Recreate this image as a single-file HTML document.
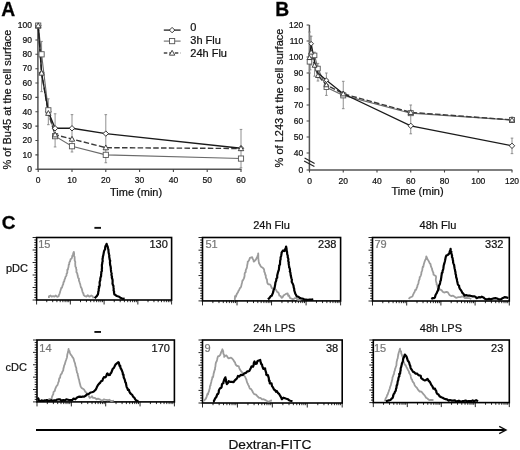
<!DOCTYPE html>
<html><head><meta charset="utf-8"><style>
html,body{margin:0;padding:0;background:#fff;}
body{width:520px;height:450px;overflow:hidden;font-family:"Liberation Sans",sans-serif;}
svg{display:block;filter:grayscale(1);}
text{stroke:#111;stroke-width:0.22px;}
text[fill="#777"]{stroke:#777;}
text[font-weight="bold"]{stroke-width:0.3px;}
</style></head><body>
<svg width="520" height="450" viewBox="0 0 520 450">
<rect width="520" height="450" fill="#fff"/>
<text x="1.2" y="15.8" font-family="'Liberation Sans', sans-serif" font-size="19.3" font-weight="bold">A</text>
<path d="M37.9,25.60 V169.2 H241.50" fill="none" stroke="#555" stroke-width="1.5"/>
<path d="M35.4,169.20H38.2M35.4,154.84H38.2M35.4,140.48H38.2M35.4,126.12H38.2M35.4,111.76H38.2M35.4,97.40H38.2M35.4,83.04H38.2M35.4,68.68H38.2M35.4,54.32H38.2M35.4,39.96H38.2M35.4,25.60H38.2M38.20,169.2V172M72.00,169.2V172M105.80,169.2V172M139.60,169.2V172M173.40,169.2V172M207.20,169.2V172M241.00,169.2V172" stroke="#444" stroke-width="1.1"/>
<text x="32" y="172.00" font-family="'Liberation Sans', sans-serif" font-size="8.5" text-anchor="end" fill="#111">0</text>
<text x="32" y="157.64" font-family="'Liberation Sans', sans-serif" font-size="8.5" text-anchor="end" fill="#111">10</text>
<text x="32" y="143.28" font-family="'Liberation Sans', sans-serif" font-size="8.5" text-anchor="end" fill="#111">20</text>
<text x="32" y="128.92" font-family="'Liberation Sans', sans-serif" font-size="8.5" text-anchor="end" fill="#111">30</text>
<text x="32" y="114.56" font-family="'Liberation Sans', sans-serif" font-size="8.5" text-anchor="end" fill="#111">40</text>
<text x="32" y="100.20" font-family="'Liberation Sans', sans-serif" font-size="8.5" text-anchor="end" fill="#111">50</text>
<text x="32" y="85.84" font-family="'Liberation Sans', sans-serif" font-size="8.5" text-anchor="end" fill="#111">60</text>
<text x="32" y="71.48" font-family="'Liberation Sans', sans-serif" font-size="8.5" text-anchor="end" fill="#111">70</text>
<text x="32" y="57.12" font-family="'Liberation Sans', sans-serif" font-size="8.5" text-anchor="end" fill="#111">80</text>
<text x="32" y="42.76" font-family="'Liberation Sans', sans-serif" font-size="8.5" text-anchor="end" fill="#111">90</text>
<text x="32" y="28.40" font-family="'Liberation Sans', sans-serif" font-size="8.5" text-anchor="end" fill="#111">100</text>
<text x="38.20" y="183.4" font-family="'Liberation Sans', sans-serif" font-size="8.5" text-anchor="middle" fill="#111">0</text>
<text x="72.00" y="183.4" font-family="'Liberation Sans', sans-serif" font-size="8.5" text-anchor="middle" fill="#111">10</text>
<text x="105.80" y="183.4" font-family="'Liberation Sans', sans-serif" font-size="8.5" text-anchor="middle" fill="#111">20</text>
<text x="139.60" y="183.4" font-family="'Liberation Sans', sans-serif" font-size="8.5" text-anchor="middle" fill="#111">30</text>
<text x="173.40" y="183.4" font-family="'Liberation Sans', sans-serif" font-size="8.5" text-anchor="middle" fill="#111">40</text>
<text x="207.20" y="183.4" font-family="'Liberation Sans', sans-serif" font-size="8.5" text-anchor="middle" fill="#111">50</text>
<text x="241.00" y="183.4" font-family="'Liberation Sans', sans-serif" font-size="8.5" text-anchor="middle" fill="#111">60</text>
<text x="110" y="195.6" font-family="'Liberation Sans', sans-serif" font-size="11" fill="#111">Time (min)</text>
<text transform="translate(11.2,169.6) rotate(-90)" font-family="'Liberation Sans', sans-serif" font-size="11" fill="#111">% of Bu45 at the cell surface</text>
<path d="M41.58,41.40V91.66M40.28,41.40h2.6M40.28,91.66h2.6M48.34,98.84V124.68M47.04,98.84h2.6M47.04,124.68h2.6M55.10,113.77V146.94M53.80,113.77h2.6M53.80,146.94h2.6M72.00,114.63V151.97M70.70,114.63h2.6M70.70,151.97h2.6M105.80,114.63V162.74M104.50,114.63h2.6M104.50,162.74h2.6M241.00,129.42V167.76M239.70,129.42h2.6M239.70,167.76h2.6" stroke="#858585" stroke-width="0.9" fill="none"/>
<polyline points="38.20,25.60 41.58,54.32 48.34,110.32 55.10,136.17 72.00,146.22 105.80,154.84 241.00,158.57" fill="none" stroke="#6a6a6a" stroke-width="1.1"/>
<polyline points="38.20,25.60 41.58,72.99 48.34,113.20 55.10,134.74 72.00,139.04 105.80,147.66 241.00,148.52" fill="none" stroke="#3a3a3a" stroke-width="1.4" stroke-dasharray="5.5 2.3"/>
<polyline points="38.20,25.60 41.58,72.99 48.34,111.76 55.10,128.27 72.00,128.27 105.80,133.59 241.00,148.23" fill="none" stroke="#1a1a1a" stroke-width="1.3"/>
<path d="M38.20,22.90L40.90,25.60L38.20,28.30L35.50,25.60Z" fill="#fff" stroke="#222" stroke-width="0.9"/>
<path d="M41.58,70.29L44.28,72.99L41.58,75.69L38.88,72.99Z" fill="#fff" stroke="#222" stroke-width="0.9"/>
<path d="M48.34,109.06L51.04,111.76L48.34,114.46L45.64,111.76Z" fill="#fff" stroke="#222" stroke-width="0.9"/>
<path d="M55.10,125.57L57.80,128.27L55.10,130.97L52.40,128.27Z" fill="#fff" stroke="#222" stroke-width="0.9"/>
<path d="M72.00,125.57L74.70,128.27L72.00,130.97L69.30,128.27Z" fill="#fff" stroke="#222" stroke-width="0.9"/>
<path d="M105.80,130.89L108.50,133.59L105.80,136.29L103.10,133.59Z" fill="#fff" stroke="#222" stroke-width="0.9"/>
<path d="M241.00,145.53L243.70,148.23L241.00,150.93L238.30,148.23Z" fill="#fff" stroke="#222" stroke-width="0.9"/>
<rect x="35.60" y="23.00" width="5.20" height="5.20" fill="#fff" stroke="#555" stroke-width="0.9"/>
<rect x="38.98" y="51.72" width="5.20" height="5.20" fill="#fff" stroke="#555" stroke-width="0.9"/>
<rect x="45.74" y="107.72" width="5.20" height="5.20" fill="#fff" stroke="#555" stroke-width="0.9"/>
<rect x="52.50" y="133.57" width="5.20" height="5.20" fill="#fff" stroke="#555" stroke-width="0.9"/>
<rect x="69.40" y="143.62" width="5.20" height="5.20" fill="#fff" stroke="#555" stroke-width="0.9"/>
<rect x="103.20" y="152.24" width="5.20" height="5.20" fill="#fff" stroke="#555" stroke-width="0.9"/>
<rect x="238.40" y="155.97" width="5.20" height="5.20" fill="#fff" stroke="#555" stroke-width="0.9"/>
<path d="M38.20,22.90L40.90,27.76L35.50,27.76Z" fill="#fff" stroke="#333" stroke-width="0.9"/>
<path d="M41.58,70.29L44.28,75.15L38.88,75.15Z" fill="#fff" stroke="#333" stroke-width="0.9"/>
<path d="M48.34,110.50L51.04,115.36L45.64,115.36Z" fill="#fff" stroke="#333" stroke-width="0.9"/>
<path d="M55.10,132.04L57.80,136.90L52.40,136.90Z" fill="#fff" stroke="#333" stroke-width="0.9"/>
<path d="M72.00,136.34L74.70,141.20L69.30,141.20Z" fill="#fff" stroke="#333" stroke-width="0.9"/>
<path d="M105.80,144.96L108.50,149.82L103.10,149.82Z" fill="#fff" stroke="#333" stroke-width="0.9"/>
<path d="M241.00,145.82L243.70,150.68L238.30,150.68Z" fill="#fff" stroke="#333" stroke-width="0.9"/>
<path d="M163.8,30.1H180.6" stroke="#222" stroke-width="1.3"/>
<path d="M172.10,27.40L174.80,30.10L172.10,32.80L169.40,30.10Z" fill="#fff" stroke="#222" stroke-width="0.9"/>
<path d="M163.8,41.1H180.6" stroke="#6a6a6a" stroke-width="1.1"/>
<rect x="169.50" y="38.50" width="5.20" height="5.20" fill="#fff" stroke="#555" stroke-width="0.9"/>
<path d="M163.8,53H180.6" stroke="#444" stroke-width="1.3" stroke-dasharray="3.5 2"/>
<path d="M172.10,50.30L174.80,55.16L169.40,55.16Z" fill="#fff" stroke="#333" stroke-width="0.9"/>
<text x="190.3" y="31.3" font-family="'Liberation Sans', sans-serif" font-size="11" fill="#111">0</text>
<text x="190.3" y="43.6" font-family="'Liberation Sans', sans-serif" font-size="11" fill="#111">3h Flu</text>
<text x="190.3" y="56.8" font-family="'Liberation Sans', sans-serif" font-size="11" fill="#111">24h Flu</text>
<text x="275.2" y="15.6" font-family="'Liberation Sans', sans-serif" font-size="19.3" font-weight="bold">B</text>
<path d="M309.4,25.00 V170 H512.30" fill="none" stroke="#555" stroke-width="1.5"/>
<path d="M306.6,170.00H309.4M306.6,153.00H309.4M306.6,137.00H309.4M306.6,121.00H309.4M306.6,105.00H309.4M306.6,89.00H309.4M306.6,73.00H309.4M306.6,57.00H309.4M306.6,41.00H309.4M306.6,25.00H309.4M309.50,170V172.6M343.25,170V172.6M377.00,170V172.6M410.75,170V172.6M444.50,170V172.6M478.25,170V172.6M512.00,170V172.6" stroke="#444" stroke-width="1.1"/>
<path d="M304.6,158.1L314.6,163.4M304.1,160.9L314.4,166.4" stroke="#222" stroke-width="1.1"/>
<text x="303.3" y="172.80" font-family="'Liberation Sans', sans-serif" font-size="8.5" text-anchor="end" fill="#111">0</text>
<text x="303.3" y="155.80" font-family="'Liberation Sans', sans-serif" font-size="8.5" text-anchor="end" fill="#111">40</text>
<text x="303.3" y="139.80" font-family="'Liberation Sans', sans-serif" font-size="8.5" text-anchor="end" fill="#111">50</text>
<text x="303.3" y="123.80" font-family="'Liberation Sans', sans-serif" font-size="8.5" text-anchor="end" fill="#111">60</text>
<text x="303.3" y="107.80" font-family="'Liberation Sans', sans-serif" font-size="8.5" text-anchor="end" fill="#111">70</text>
<text x="303.3" y="91.80" font-family="'Liberation Sans', sans-serif" font-size="8.5" text-anchor="end" fill="#111">80</text>
<text x="303.3" y="75.80" font-family="'Liberation Sans', sans-serif" font-size="8.5" text-anchor="end" fill="#111">90</text>
<text x="303.3" y="59.80" font-family="'Liberation Sans', sans-serif" font-size="8.5" text-anchor="end" fill="#111">100</text>
<text x="303.3" y="43.80" font-family="'Liberation Sans', sans-serif" font-size="8.5" text-anchor="end" fill="#111">110</text>
<text x="303.3" y="27.80" font-family="'Liberation Sans', sans-serif" font-size="8.5" text-anchor="end" fill="#111">120</text>
<text x="309.50" y="183.8" font-family="'Liberation Sans', sans-serif" font-size="8.5" text-anchor="middle" fill="#111">0</text>
<text x="343.25" y="183.8" font-family="'Liberation Sans', sans-serif" font-size="8.5" text-anchor="middle" fill="#111">20</text>
<text x="377.00" y="183.8" font-family="'Liberation Sans', sans-serif" font-size="8.5" text-anchor="middle" fill="#111">40</text>
<text x="410.75" y="183.8" font-family="'Liberation Sans', sans-serif" font-size="8.5" text-anchor="middle" fill="#111">60</text>
<text x="444.50" y="183.8" font-family="'Liberation Sans', sans-serif" font-size="8.5" text-anchor="middle" fill="#111">80</text>
<text x="478.25" y="183.8" font-family="'Liberation Sans', sans-serif" font-size="8.5" text-anchor="middle" fill="#111">100</text>
<text x="512.00" y="183.8" font-family="'Liberation Sans', sans-serif" font-size="8.5" text-anchor="middle" fill="#111">120</text>
<text x="391.5" y="195.3" font-family="'Liberation Sans', sans-serif" font-size="11" fill="#111">Time (min)</text>
<text transform="translate(282.9,167.4) rotate(-90)" font-family="'Liberation Sans', sans-serif" font-size="11" fill="#111">% of L243 at the cell surface</text>
<path d="M309.50,32.04V73.00M308.20,32.04h2.6M308.20,73.00h2.6M310.18,36.20V69.80M308.88,36.20h2.6M308.88,69.80h2.6M311.19,36.20V65.00M309.89,36.20h2.6M309.89,65.00h2.6M314.56,52.20V76.20M313.26,52.20h2.6M313.26,76.20h2.6M317.94,63.40V81.00M316.64,63.40h2.6M316.64,81.00h2.6M326.38,73.00V95.40M325.07,73.00h2.6M325.07,95.40h2.6M343.25,81.32V108.68M341.95,81.32h2.6M341.95,108.68h2.6M410.75,105.00V133.80M409.45,105.00h2.6M409.45,133.80h2.6M512.00,117.00V121.80M510.70,117.00h2.6M510.70,121.80h2.6M512.00,138.12V153.64M510.70,138.12h2.6M510.70,153.64h2.6" stroke="#858585" stroke-width="0.9" fill="none"/>
<polyline points="309.50,61.80 311.19,55.40 314.56,55.40 317.94,68.52 326.38,87.24 343.25,95.40 410.75,113.16 512.00,120.04" fill="none" stroke="#6a6a6a" stroke-width="1.1"/>
<polyline points="309.50,57.64 311.19,52.20 314.56,65.32 317.94,75.56 326.38,84.84 343.25,93.80 410.75,112.36 512.00,119.88" fill="none" stroke="#3a3a3a" stroke-width="1.4" stroke-dasharray="5.5 2.3"/>
<polyline points="309.50,57.64 311.19,43.72 314.56,61.80 317.94,73.00 326.38,80.20 343.25,93.80 410.75,125.80 512.00,145.80" fill="none" stroke="#1a1a1a" stroke-width="1.3"/>
<path d="M311.19,41.42L313.49,43.72L311.19,46.02L308.89,43.72Z" fill="#fff" stroke="#222" stroke-width="0.9"/>
<path d="M326.38,77.90L328.68,80.20L326.38,82.50L324.07,80.20Z" fill="#fff" stroke="#222" stroke-width="0.9"/>
<path d="M343.25,91.10L345.95,93.80L343.25,96.50L340.55,93.80Z" fill="#fff" stroke="#222" stroke-width="0.9"/>
<path d="M410.75,123.10L413.45,125.80L410.75,128.50L408.05,125.80Z" fill="#fff" stroke="#222" stroke-width="0.9"/>
<path d="M512.00,143.10L514.70,145.80L512.00,148.50L509.30,145.80Z" fill="#fff" stroke="#222" stroke-width="0.9"/>
<rect x="307.20" y="59.50" width="4.60" height="4.60" fill="#fff" stroke="#555" stroke-width="0.9"/>
<rect x="308.89" y="53.10" width="4.60" height="4.60" fill="#fff" stroke="#555" stroke-width="0.9"/>
<rect x="312.26" y="53.10" width="4.60" height="4.60" fill="#fff" stroke="#555" stroke-width="0.9"/>
<rect x="315.64" y="66.22" width="4.60" height="4.60" fill="#fff" stroke="#555" stroke-width="0.9"/>
<rect x="324.07" y="84.94" width="4.60" height="4.60" fill="#fff" stroke="#555" stroke-width="0.9"/>
<rect x="340.75" y="92.90" width="5.00" height="5.00" fill="#fff" stroke="#555" stroke-width="0.9"/>
<rect x="408.25" y="110.66" width="5.00" height="5.00" fill="#fff" stroke="#555" stroke-width="0.9"/>
<rect x="509.50" y="117.54" width="5.00" height="5.00" fill="#fff" stroke="#555" stroke-width="0.9"/>
<path d="M309.50,55.24L311.90,59.56L307.10,59.56Z" fill="#fff" stroke="#333" stroke-width="0.9"/>
<path d="M311.19,49.80L313.59,54.12L308.79,54.12Z" fill="#fff" stroke="#333" stroke-width="0.9"/>
<path d="M314.56,62.92L316.96,67.24L312.16,67.24Z" fill="#fff" stroke="#333" stroke-width="0.9"/>
<path d="M317.94,73.16L320.34,77.48L315.54,77.48Z" fill="#fff" stroke="#333" stroke-width="0.9"/>
<path d="M326.38,82.44L328.77,86.76L323.98,86.76Z" fill="#fff" stroke="#333" stroke-width="0.9"/>
<path d="M343.25,91.20L345.85,95.88L340.65,95.88Z" fill="#fff" stroke="#333" stroke-width="0.9"/>
<path d="M410.75,109.76L413.35,114.44L408.15,114.44Z" fill="#fff" stroke="#333" stroke-width="0.9"/>
<path d="M512.00,117.28L514.60,121.96L509.40,121.96Z" fill="#fff" stroke="#333" stroke-width="0.9"/>
<text x="1.8" y="229.4" font-family="'Liberation Sans', sans-serif" font-size="19" font-weight="bold">C</text>
<path d="M32.60,300.00H36.6M34.30,297.50H36.6M34.30,295.00H36.6M34.30,292.50H36.6M34.30,290.00H36.6M32.60,287.50H36.6M34.30,285.00H36.6M34.30,282.50H36.6M34.30,280.00H36.6M34.30,277.50H36.6M32.60,275.00H36.6M34.30,272.50H36.6M34.30,270.00H36.6M34.30,267.50H36.6M34.30,265.00H36.6M32.60,262.50H36.6M34.30,260.00H36.6M34.30,257.50H36.6M34.30,255.00H36.6M34.30,252.50H36.6M32.60,250.00H36.6M34.30,247.50H36.6M34.30,245.00H36.6M34.30,242.50H36.6M34.30,240.00H36.6M32.60,237.50H36.6M36.60,300.0V304.5M46.76,300.0V302.2M52.70,300.0V302.2M56.92,300.0V302.2M60.19,300.0V302.2M62.86,300.0V302.2M65.12,300.0V302.2M67.08,300.0V302.2M68.81,300.0V302.2M70.35,300.0V304.5M80.51,300.0V302.2M86.45,300.0V302.2M90.67,300.0V302.2M93.94,300.0V302.2M96.61,300.0V302.2M98.87,300.0V302.2M100.83,300.0V302.2M102.56,300.0V302.2M104.10,300.0V304.5M114.26,300.0V302.2M120.20,300.0V302.2M124.42,300.0V302.2M127.69,300.0V302.2M130.36,300.0V302.2M132.62,300.0V302.2M134.58,300.0V302.2M136.31,300.0V302.2M137.85,300.0V304.5M148.01,300.0V302.2M153.95,300.0V302.2M158.17,300.0V302.2M161.44,300.0V302.2M164.11,300.0V302.2M166.37,300.0V302.2M168.33,300.0V302.2M170.06,300.0V302.2M171.60,300.0V304.5" stroke="#111" stroke-width="0.9"/>
<rect x="36.6" y="237.5" width="135.00" height="62.50" fill="none" stroke="#000" stroke-width="1.6"/>
<text x="38.20" y="248.00" font-family="'Liberation Sans', sans-serif" font-size="11" fill="#777">15</text>
<text x="167.80" y="248.00" font-family="'Liberation Sans', sans-serif" font-size="11" text-anchor="end" fill="#111">130</text>
<rect x="94.4" y="226.9" width="6.6" height="1.9" fill="#111"/>
<path d="M198.50,300.90H202.5M200.20,298.36H202.5M200.20,295.83H202.5M200.20,293.29H202.5M200.20,290.76H202.5M198.50,288.22H202.5M200.20,285.68H202.5M200.20,283.15H202.5M200.20,280.61H202.5M200.20,278.08H202.5M198.50,275.54H202.5M200.20,273.00H202.5M200.20,270.47H202.5M200.20,267.93H202.5M200.20,265.40H202.5M198.50,262.86H202.5M200.20,260.32H202.5M200.20,257.79H202.5M200.20,255.25H202.5M200.20,252.72H202.5M198.50,250.18H202.5M200.20,247.64H202.5M200.20,245.11H202.5M200.20,242.57H202.5M200.20,240.04H202.5M198.50,237.50H202.5M202.50,300.9V305.4M212.89,300.9V303.09999999999997M218.97,300.9V303.09999999999997M223.29,300.9V303.09999999999997M226.63,300.9V303.09999999999997M229.37,300.9V303.09999999999997M231.68,300.9V303.09999999999997M233.68,300.9V303.09999999999997M235.45,300.9V303.09999999999997M237.03,300.9V305.4M247.42,300.9V303.09999999999997M253.50,300.9V303.09999999999997M257.81,300.9V303.09999999999997M261.16,300.9V303.09999999999997M263.89,300.9V303.09999999999997M266.20,300.9V303.09999999999997M268.20,300.9V303.09999999999997M269.97,300.9V303.09999999999997M271.55,300.9V305.4M281.94,300.9V303.09999999999997M288.02,300.9V303.09999999999997M292.34,300.9V303.09999999999997M295.68,300.9V303.09999999999997M298.42,300.9V303.09999999999997M300.73,300.9V303.09999999999997M302.73,300.9V303.09999999999997M304.50,300.9V303.09999999999997M306.08,300.9V305.4M316.47,300.9V303.09999999999997M322.55,300.9V303.09999999999997M326.86,300.9V303.09999999999997M330.21,300.9V303.09999999999997M332.94,300.9V303.09999999999997M335.25,300.9V303.09999999999997M337.25,300.9V303.09999999999997M339.02,300.9V303.09999999999997M340.60,300.9V305.4" stroke="#111" stroke-width="0.9"/>
<rect x="202.5" y="237.5" width="138.10" height="63.40" fill="none" stroke="#000" stroke-width="1.6"/>
<text x="205.50" y="248.00" font-family="'Liberation Sans', sans-serif" font-size="11" fill="#777">51</text>
<text x="336.40" y="248.00" font-family="'Liberation Sans', sans-serif" font-size="11" text-anchor="end" fill="#111">238</text>
<path d="M368.50,301.00H372.5M370.20,298.46H372.5M370.20,295.92H372.5M370.20,293.38H372.5M370.20,290.84H372.5M368.50,288.30H372.5M370.20,285.76H372.5M370.20,283.22H372.5M370.20,280.68H372.5M370.20,278.14H372.5M368.50,275.60H372.5M370.20,273.06H372.5M370.20,270.52H372.5M370.20,267.98H372.5M370.20,265.44H372.5M368.50,262.90H372.5M370.20,260.36H372.5M370.20,257.82H372.5M370.20,255.28H372.5M370.20,252.74H372.5M368.50,250.20H372.5M370.20,247.66H372.5M370.20,245.12H372.5M370.20,242.58H372.5M370.20,240.04H372.5M368.50,237.50H372.5M372.50,301.0V305.5M382.80,301.0V303.2M388.82,301.0V303.2M393.09,301.0V303.2M396.40,301.0V303.2M399.11,301.0V303.2M401.40,301.0V303.2M403.39,301.0V303.2M405.14,301.0V303.2M406.70,301.0V305.5M417.00,301.0V303.2M423.02,301.0V303.2M427.29,301.0V303.2M430.60,301.0V303.2M433.31,301.0V303.2M435.60,301.0V303.2M437.59,301.0V303.2M439.34,301.0V303.2M440.90,301.0V305.5M451.20,301.0V303.2M457.22,301.0V303.2M461.49,301.0V303.2M464.80,301.0V303.2M467.51,301.0V303.2M469.80,301.0V303.2M471.79,301.0V303.2M473.54,301.0V303.2M475.10,301.0V305.5M485.40,301.0V303.2M491.42,301.0V303.2M495.69,301.0V303.2M499.00,301.0V303.2M501.71,301.0V303.2M504.00,301.0V303.2M505.99,301.0V303.2M507.74,301.0V303.2M509.30,301.0V305.5" stroke="#111" stroke-width="0.9"/>
<rect x="372.5" y="237.5" width="136.80" height="63.50" fill="none" stroke="#000" stroke-width="1.6"/>
<text x="374.40" y="248.00" font-family="'Liberation Sans', sans-serif" font-size="11" fill="#777">79</text>
<text x="503.40" y="248.00" font-family="'Liberation Sans', sans-serif" font-size="11" text-anchor="end" fill="#111">332</text>
<path d="M33.00,401.90H37.0M34.70,399.42H37.0M34.70,396.95H37.0M34.70,394.47H37.0M34.70,392.00H37.0M33.00,389.52H37.0M34.70,387.04H37.0M34.70,384.57H37.0M34.70,382.09H37.0M34.70,379.62H37.0M33.00,377.14H37.0M34.70,374.66H37.0M34.70,372.19H37.0M34.70,369.71H37.0M34.70,367.24H37.0M33.00,364.76H37.0M34.70,362.28H37.0M34.70,359.81H37.0M34.70,357.33H37.0M34.70,354.86H37.0M33.00,352.38H37.0M34.70,349.90H37.0M34.70,347.43H37.0M34.70,344.95H37.0M34.70,342.48H37.0M33.00,340.00H37.0M37.00,401.9V406.4M47.34,401.9V404.09999999999997M53.39,401.9V404.09999999999997M57.68,401.9V404.09999999999997M61.01,401.9V404.09999999999997M63.73,401.9V404.09999999999997M66.03,401.9V404.09999999999997M68.02,401.9V404.09999999999997M69.78,401.9V404.09999999999997M71.35,401.9V406.4M81.69,401.9V404.09999999999997M87.74,401.9V404.09999999999997M92.03,401.9V404.09999999999997M95.36,401.9V404.09999999999997M98.08,401.9V404.09999999999997M100.38,401.9V404.09999999999997M102.37,401.9V404.09999999999997M104.13,401.9V404.09999999999997M105.70,401.9V406.4M116.04,401.9V404.09999999999997M122.09,401.9V404.09999999999997M126.38,401.9V404.09999999999997M129.71,401.9V404.09999999999997M132.43,401.9V404.09999999999997M134.73,401.9V404.09999999999997M136.72,401.9V404.09999999999997M138.48,401.9V404.09999999999997M140.05,401.9V406.4M150.39,401.9V404.09999999999997M156.44,401.9V404.09999999999997M160.73,401.9V404.09999999999997M164.06,401.9V404.09999999999997M166.78,401.9V404.09999999999997M169.08,401.9V404.09999999999997M171.07,401.9V404.09999999999997M172.83,401.9V404.09999999999997M174.40,401.9V406.4" stroke="#111" stroke-width="0.9"/>
<rect x="37.0" y="340.0" width="137.40" height="61.90" fill="none" stroke="#000" stroke-width="1.6"/>
<text x="39.30" y="351.80" font-family="'Liberation Sans', sans-serif" font-size="11" fill="#777">14</text>
<text x="169.90" y="351.80" font-family="'Liberation Sans', sans-serif" font-size="11" text-anchor="end" fill="#111">170</text>
<rect x="94.4" y="331.0" width="6.6" height="1.9" fill="#111"/>
<path d="M198.50,403.00H202.5M200.20,400.48H202.5M200.20,397.96H202.5M200.20,395.44H202.5M200.20,392.92H202.5M198.50,390.40H202.5M200.20,387.88H202.5M200.20,385.36H202.5M200.20,382.84H202.5M200.20,380.32H202.5M198.50,377.80H202.5M200.20,375.28H202.5M200.20,372.76H202.5M200.20,370.24H202.5M200.20,367.72H202.5M198.50,365.20H202.5M200.20,362.68H202.5M200.20,360.16H202.5M200.20,357.64H202.5M200.20,355.12H202.5M198.50,352.60H202.5M200.20,350.08H202.5M200.20,347.56H202.5M200.20,345.04H202.5M200.20,342.52H202.5M198.50,340.00H202.5M202.50,403.0V407.5M213.01,403.0V405.2M219.16,403.0V405.2M223.53,403.0V405.2M226.91,403.0V405.2M229.68,403.0V405.2M232.02,403.0V405.2M234.04,403.0V405.2M235.83,403.0V405.2M237.43,403.0V407.5M247.94,403.0V405.2M254.09,403.0V405.2M258.45,403.0V405.2M261.84,403.0V405.2M264.60,403.0V405.2M266.94,403.0V405.2M268.97,403.0V405.2M270.75,403.0V405.2M272.35,403.0V407.5M282.86,403.0V405.2M289.01,403.0V405.2M293.38,403.0V405.2M296.76,403.0V405.2M299.53,403.0V405.2M301.87,403.0V405.2M303.89,403.0V405.2M305.68,403.0V405.2M307.27,403.0V407.5M317.79,403.0V405.2M323.94,403.0V405.2M328.30,403.0V405.2M331.69,403.0V405.2M334.45,403.0V405.2M336.79,403.0V405.2M338.82,403.0V405.2M340.60,403.0V405.2M342.20,403.0V407.5" stroke="#111" stroke-width="0.9"/>
<rect x="202.5" y="340.0" width="139.70" height="63.00" fill="none" stroke="#000" stroke-width="1.6"/>
<text x="204.40" y="351.80" font-family="'Liberation Sans', sans-serif" font-size="11" fill="#777">9</text>
<text x="338.20" y="351.80" font-family="'Liberation Sans', sans-serif" font-size="11" text-anchor="end" fill="#111">38</text>
<path d="M369.30,402.60H373.3M371.00,400.10H373.3M371.00,397.59H373.3M371.00,395.09H373.3M371.00,392.58H373.3M369.30,390.08H373.3M371.00,387.58H373.3M371.00,385.07H373.3M371.00,382.57H373.3M371.00,380.06H373.3M369.30,377.56H373.3M371.00,375.06H373.3M371.00,372.55H373.3M371.00,370.05H373.3M371.00,367.54H373.3M369.30,365.04H373.3M371.00,362.54H373.3M371.00,360.03H373.3M371.00,357.53H373.3M371.00,355.02H373.3M369.30,352.52H373.3M371.00,350.02H373.3M371.00,347.51H373.3M371.00,345.01H373.3M371.00,342.50H373.3M369.30,340.00H373.3M373.30,402.6V407.1M383.54,402.6V404.8M389.52,402.6V404.8M393.77,402.6V404.8M397.06,402.6V404.8M399.76,402.6V404.8M402.03,402.6V404.8M404.01,402.6V404.8M405.74,402.6V404.8M407.30,402.6V407.1M417.54,402.6V404.8M423.52,402.6V404.8M427.77,402.6V404.8M431.06,402.6V404.8M433.76,402.6V404.8M436.03,402.6V404.8M438.01,402.6V404.8M439.74,402.6V404.8M441.30,402.6V407.1M451.54,402.6V404.8M457.52,402.6V404.8M461.77,402.6V404.8M465.06,402.6V404.8M467.76,402.6V404.8M470.03,402.6V404.8M472.01,402.6V404.8M473.74,402.6V404.8M475.30,402.6V407.1M485.54,402.6V404.8M491.52,402.6V404.8M495.77,402.6V404.8M499.06,402.6V404.8M501.76,402.6V404.8M504.03,402.6V404.8M506.01,402.6V404.8M507.74,402.6V404.8M509.30,402.6V407.1" stroke="#111" stroke-width="0.9"/>
<rect x="373.3" y="340.0" width="136.00" height="62.60" fill="none" stroke="#000" stroke-width="1.6"/>
<text x="373.90" y="351.80" font-family="'Liberation Sans', sans-serif" font-size="11" fill="#777">15</text>
<text x="503.30" y="351.80" font-family="'Liberation Sans', sans-serif" font-size="11" text-anchor="end" fill="#111">23</text>
<text x="253.2" y="228.6" font-family="'Liberation Sans', sans-serif" font-size="11" fill="#111">24h Flu</text>
<text x="419.6" y="229.2" font-family="'Liberation Sans', sans-serif" font-size="11" fill="#111">48h Flu</text>
<text x="253.2" y="331.8" font-family="'Liberation Sans', sans-serif" font-size="11" fill="#111">24h LPS</text>
<text x="419.8" y="331.8" font-family="'Liberation Sans', sans-serif" font-size="11" fill="#111">48h LPS</text>
<text x="6" y="272.1" font-family="'Liberation Sans', sans-serif" font-size="11" fill="#111">pDC</text>
<text x="5.6" y="371.2" font-family="'Liberation Sans', sans-serif" font-size="11" fill="#111">cDC</text>
<polyline points="48.9,298.0 48.9,296.2 50.5,295.5 51.6,296.7 53.1,296.2 54.7,296.5 55.6,295.5 57.3,296.8 58.7,296.2 58.8,295.4 59.6,293.6 60.1,292.0 60.2,291.2 60.5,290.6 61.4,287.6 61.9,287.9 62.6,285.2 63.2,284.4 63.5,282.2 64.2,281.5 64.5,279.7 65.2,278.3 65.4,277.0 66.2,276.0 66.5,275.3 66.6,273.6 67.3,272.8 67.3,269.9 67.9,269.6 68.0,268.7 68.5,267.1 68.7,264.8 69.2,264.5 69.3,262.5 70.1,261.2 70.6,259.1 71.5,258.7 71.9,257.9 72.4,255.4 73.0,255.0 73.3,253.0 73.8,251.9 74.1,253.3 74.1,254.8 74.0,256.1 74.6,256.8 74.7,259.9 74.6,260.2 75.3,261.9 75.2,263.8 75.3,264.7 75.4,266.7 76.1,267.4 76.1,268.8 76.5,269.6 76.4,272.1 77.2,273.2 77.5,274.7 77.6,275.3 78.0,277.2 78.3,278.1 78.9,278.5 78.9,280.7 79.5,281.9 79.8,283.0 80.3,284.6 80.6,285.9 81.0,287.4 81.3,287.7 81.9,289.2 82.5,291.7 82.9,292.9 83.4,293.3 83.6,295.0 85.1,296.2 86.4,296.5 87.8,295.3 89.5,296.7 91.3,295.5 92.7,296.2 93.5,298.3" fill="none" stroke="#9c9c9c" stroke-width="1.8" stroke-linejoin="round"/>
<polyline points="234.0,299.5 234.9,299.2 235.0,296.2 236.0,296.6 236.4,295.0 237.1,293.5 237.9,292.4 238.4,291.1 239.3,289.7 239.8,288.2 240.7,287.5 241.1,286.6 241.6,284.4 242.0,282.8 242.5,280.5 243.2,279.8 243.9,278.4 244.4,276.9 244.6,275.9 244.6,274.0 244.9,272.9 245.8,271.9 245.6,270.9 246.1,269.3 246.6,268.6 247.0,266.7 247.2,265.3 247.7,262.9 247.7,261.7 248.2,261.4 249.3,259.7 249.9,257.9 252.2,257.2 252.7,258.6 253.5,260.2 253.7,261.7 255.0,260.6 256.0,259.4 256.8,257.6 257.1,257.2 257.9,255.0 258.2,253.4 258.3,255.2 258.3,255.6 258.3,258.0 258.5,259.8 258.7,261.2 259.0,262.7 259.0,263.2 259.8,264.5 260.6,266.0 261.3,267.0 262.2,267.4 263.5,268.5 264.2,269.9 264.2,271.5 265.0,273.2 265.2,274.8 265.8,275.3 265.8,277.3 266.3,278.6 266.9,279.3 267.0,280.5 267.3,282.8 268.2,284.3 269.5,284.3 270.5,285.0 271.2,286.7 271.8,288.1 274.1,288.9 275.0,289.0 276.2,290.2 277.1,291.9 278.1,292.3 278.8,293.5 279.4,295.7 280.4,295.8 281.6,297.9 282.4,297.5 283.7,295.3 284.6,294.9 285.9,293.9 287.7,293.4 288.2,295.9 289.1,295.5 289.9,297.9 292.2,299.0 293.7,299.2 294.8,298.2 296.1,298.1 297.6,299.5 299.0,299.8 300.3,299.7 301.3,298.9 302.8,299.0" fill="none" stroke="#9c9c9c" stroke-width="1.8" stroke-linejoin="round"/>
<polyline points="408.6,298.8 409.9,297.6 411.2,297.0 412.4,296.5 412.9,295.2 414.1,292.6 414.6,292.0 415.2,290.0 416.1,289.8 416.9,287.4 417.3,286.8 417.5,285.2 418.3,283.9 418.6,282.4 418.6,281.5 419.2,279.9 419.6,279.1 419.7,277.0 420.3,276.8 420.9,275.2 421.3,274.0 421.4,272.3 422.0,270.8 422.4,269.7 422.3,269.2 422.8,266.6 423.3,266.8 423.7,264.7 424.0,263.5 424.5,261.9 425.1,260.3 425.7,259.3 426.1,258.1 426.3,256.4 427.2,258.3 427.4,259.2 428.2,260.2 429.2,262.1 429.8,263.5 430.5,264.0 430.8,265.9 431.5,267.6 432.0,268.5 432.1,269.6 433.0,272.2 433.3,272.3 433.5,274.6 434.4,275.2 435.8,276.1 436.1,277.1 435.8,279.5 435.9,280.4 436.2,282.0 436.7,283.6 436.5,284.3 437.4,285.6 437.4,286.6 437.9,288.5 438.8,289.6 440.2,289.5 441.8,290.4 442.7,291.7 444.1,292.6 446.3,291.9 447.6,292.1 448.6,293.6 449.4,294.9 451.2,296.0 453.1,295.7 454.6,296.7 456.1,297.9 458.4,297.2 460.4,297.1 462.2,296.4 463.8,297.0 465.2,298.2 466.7,297.9 468.4,298.1 469.6,298.2 471.3,299.0" fill="none" stroke="#9c9c9c" stroke-width="1.8" stroke-linejoin="round"/>
<polyline points="45.1,400.8 46.3,399.9 47.8,399.9 49.4,398.9 50.9,399.3 51.7,398.7 51.9,397.1 52.6,395.4 53.3,394.0 53.5,392.2 54.5,391.0 54.9,390.9 55.0,389.7 55.7,387.9 56.5,386.1 57.4,385.3 58.0,383.4 58.1,382.8 58.9,381.1 59.0,379.6 59.3,378.3 60.1,377.8 60.3,375.8 60.9,374.4 61.8,373.5 62.5,371.3 63.2,370.6 63.4,368.6 63.8,367.4 64.2,365.3 64.8,364.5 64.9,363.7 65.7,361.0 66.1,360.0 66.4,359.0 66.9,357.7 67.0,357.1 67.3,354.6 67.6,353.6 68.2,351.6 68.4,350.1 68.6,349.0 68.8,351.1 69.4,350.9 70.0,353.1 70.8,354.8 71.4,355.2 72.3,356.9 72.9,357.6 73.6,358.7 74.3,361.6 74.6,362.2 75.2,363.9 75.1,363.9 75.7,366.9 76.1,367.2 76.4,368.9 76.3,369.6 76.8,371.3 77.0,372.6 77.8,373.9 77.7,375.1 78.1,376.0 78.6,378.7 79.1,379.6 79.2,380.6 79.7,383.2 79.7,383.2 80.1,384.2 80.6,386.4 81.5,387.9 82.9,388.7 84.0,389.4 85.2,391.7 86.6,392.7 87.4,394.7 88.6,395.6 89.7,397.8 90.8,397.5 92.0,396.2 93.1,397.9 94.2,397.8 95.3,398.1 96.5,399.3 98.0,398.7 99.7,399.3 101.0,400.0 102.4,400.7 103.7,399.3 105.0,399.7 106.8,399.8 108.0,400.3 109.2,399.7 111.0,401.0 112.4,401.0 114.0,400.5" fill="none" stroke="#9c9c9c" stroke-width="1.8" stroke-linejoin="round"/>
<polyline points="203.8,400.8 204.7,399.9 205.6,399.0 206.3,397.8 206.8,396.2 207.4,394.0 208.0,394.3 208.3,392.9 209.1,390.9 209.3,389.6 209.8,388.4 209.9,386.2 210.6,385.4 210.5,384.9 210.8,383.7 211.3,381.9 211.5,380.7 212.3,378.2 212.3,377.2 213.1,377.2 213.5,374.6 213.6,373.6 214.1,372.1 214.6,370.0 215.0,369.4 215.1,367.5 215.4,366.7 215.6,364.2 216.0,362.3 216.6,361.4 217.1,359.7 217.5,357.9 217.7,357.2 218.2,356.2 219.3,356.0 220.4,354.6 220.9,352.9 221.1,352.3 221.6,351.5 222.4,349.3 222.9,351.0 223.2,351.0 223.3,352.9 223.3,353.5 224.2,355.1 224.2,356.9 225.5,355.6 226.5,355.4 227.9,357.7 228.7,358.4 231.0,357.7 232.1,358.5 233.3,359.9 234.2,361.5 235.0,362.3 235.6,364.5 236.9,365.8 237.8,366.0 238.8,366.4 239.2,367.8 240.1,369.8 241.1,371.3 241.9,372.0 242.4,373.6 243.3,374.9 244.2,375.7 245.4,377.3 245.6,377.8 246.6,380.1 246.5,380.4 247.3,383.1 247.7,383.4 248.1,384.6 249.0,386.2 249.3,387.3 249.9,388.7 251.2,389.2 252.0,390.4 253.0,392.5 254.3,394.2 256.0,394.7 257.3,396.2 258.2,397.0 259.0,397.8 260.5,397.8 262.0,399.3 263.7,399.2 265.0,399.9 266.6,400.8 268.2,401.6 269.3,401.5 270.8,400.6 272.0,400.5" fill="none" stroke="#9c9c9c" stroke-width="1.8" stroke-linejoin="round"/>
<polyline points="384.4,400.8 385.3,400.0 385.7,398.2 386.6,397.0 387.2,395.0 387.7,394.5 388.1,393.1 388.6,391.8 388.9,390.9 389.2,390.0 389.8,388.5 390.1,386.7 390.3,386.4 390.9,385.1 391.2,383.4 391.5,382.6 392.1,380.0 392.3,379.7 392.5,377.2 392.9,376.7 393.4,375.1 393.9,374.3 394.3,371.6 394.9,370.3 395.0,369.0 395.4,368.3 395.9,366.6 396.4,365.5 396.5,363.7 396.7,361.4 397.0,360.9 397.2,359.3 397.7,358.3 398.0,356.2 398.4,354.3 398.5,353.4 398.8,352.4 399.6,350.7 399.4,350.2 400.0,348.6 400.2,350.5 401.1,351.3 401.2,353.3 401.8,354.6 402.1,355.9 402.8,357.1 402.9,358.5 403.3,360.7 404.0,362.6 404.7,364.5 405.6,365.2 406.6,367.5 407.3,368.5 407.8,369.8 408.8,371.2 409.3,373.3 410.1,374.3 410.7,375.6 410.8,376.9 411.3,378.8 412.1,379.7 412.4,381.1 412.9,381.9 414.0,383.1 414.5,384.9 415.4,386.4 416.7,387.6 417.3,388.5 418.4,390.2 419.7,391.6 420.9,391.4 422.2,392.5 423.0,393.7 424.1,394.8 425.2,396.2 426.1,397.7 427.5,398.5 428.2,399.3 429.5,400.2 430.7,400.0 432.2,399.9 433.5,400.3" fill="none" stroke="#9c9c9c" stroke-width="1.8" stroke-linejoin="round"/>
<polyline points="94.7,298.3 95.8,297.0 96.8,296.1 97.9,294.4 98.2,293.1 98.3,291.5 98.7,290.7 98.7,288.8 99.2,287.5 98.9,286.8 99.7,285.8 99.7,284.2 99.6,282.4 99.8,281.5 100.3,280.2 100.3,278.5 100.7,277.0 101.1,276.0 101.1,274.7 101.3,273.3 101.3,271.8 101.9,271.0 101.8,269.1 102.0,268.0 101.9,266.1 101.9,264.7 102.2,263.8 102.3,262.4 102.7,261.2 102.5,258.8 102.8,258.3 102.9,256.5 103.2,255.7 103.6,253.6 103.7,253.0 104.1,251.0 104.5,250.2 105.1,249.4 105.2,247.3 105.5,246.0 106.0,245.5 106.6,243.9 107.1,245.5 107.7,246.7 108.1,248.6 108.4,249.6 108.5,251.0 108.6,252.5 109.1,254.6 109.3,255.3 109.2,256.6 109.6,258.7 109.7,259.7 110.2,260.7 109.9,262.2 110.1,264.2 110.2,265.1 110.6,266.3 110.8,267.8 110.9,269.4 111.1,271.4 111.3,272.3 111.7,273.8 111.4,274.8 112.0,276.9 111.8,277.6 112.5,279.5 112.6,280.4 112.6,282.5 112.5,283.4 112.9,284.9 113.4,285.8 113.5,287.4 113.7,288.7 113.6,290.4 114.1,291.4 114.0,292.6 114.4,294.4 115.8,295.3 116.8,296.0 119.2,296.7 120.2,297.6 121.5,298.3 122.9,298.8 124.7,298.5" fill="none" stroke="#000" stroke-width="2.2" stroke-linejoin="round"/>
<polyline points="268.0,299.4 269.0,298.4 269.7,297.7 270.8,296.1 271.8,295.7 272.4,294.1 272.8,293.2 273.3,291.7 273.6,289.9 274.1,288.9 274.7,287.3 274.9,285.9 275.2,284.6 275.3,283.5 275.4,282.7 276.2,280.7 276.3,279.8 276.4,278.5 277.2,277.7 277.2,275.5 277.5,274.2 277.7,273.4 278.0,272.2 278.6,270.7 279.0,269.1 279.0,268.0 279.2,266.9 279.2,265.4 280.0,264.5 280.0,263.5 280.1,261.7 280.2,260.3 280.6,259.3 280.6,257.4 281.0,256.4 281.2,255.5 281.6,253.4 281.6,252.6 282.4,251.4 283.1,250.4 284.6,251.1 285.1,249.3 285.8,248.0 286.1,246.6 286.3,247.5 286.6,248.9 286.6,250.1 287.0,251.7 287.1,252.7 287.2,254.2 287.8,255.8 287.7,257.1 288.2,258.4 288.4,259.4 288.2,260.9 288.8,262.5 288.6,263.1 288.9,265.2 289.2,266.2 289.1,267.2 289.7,268.3 290.1,270.6 289.8,271.4 290.4,272.5 290.6,274.3 290.7,275.3 291.0,276.5 291.4,278.3 291.9,279.6 291.7,281.7 292.2,282.8 292.9,284.1 293.5,285.6 293.7,287.4 294.2,288.9 294.3,290.6 294.7,291.7 295.2,293.4 296.1,295.1 296.7,296.4 298.4,296.8 299.7,297.9 301.1,298.3 303.1,298.8 304.3,299.4 305.9,299.5 307.6,299.8 308.8,299.7 310.5,299.5 311.8,299.7 313.3,299.4" fill="none" stroke="#000" stroke-width="2.2" stroke-linejoin="round"/>
<polyline points="431.3,299.0 432.6,298.1 434.0,298.1 435.0,297.3 435.4,295.5 436.0,294.1 436.6,293.4 437.2,291.8 438.0,290.4 438.3,288.9 438.7,288.2 438.9,285.9 439.5,284.8 439.8,284.3 440.1,283.0 440.3,281.3 440.8,280.5 441.1,278.4 441.3,277.3 441.4,276.1 441.7,274.5 441.8,273.1 442.5,272.4 442.6,270.7 443.0,270.0 443.4,268.2 443.6,266.4 443.7,265.5 444.2,263.9 444.5,262.7 444.8,261.7 445.1,260.3 445.5,258.2 445.8,256.8 446.3,255.6 447.8,254.9 449.4,253.4 449.7,251.5 450.3,249.8 450.6,248.8 450.8,250.7 451.4,251.7 451.1,252.2 451.6,254.1 452.1,255.9 451.9,257.0 452.6,258.1 452.8,260.1 453.1,260.7 453.1,262.4 453.6,263.8 454.1,265.0 454.4,267.1 454.6,268.5 454.9,269.5 455.2,271.4 455.5,272.5 455.5,273.8 456.0,275.0 456.1,276.8 456.3,277.7 456.8,279.0 457.1,280.9 457.3,281.7 457.7,283.6 458.0,284.7 459.1,285.7 459.2,287.1 459.9,288.9 460.7,289.9 461.4,290.9 462.2,292.6 463.6,294.0 464.5,295.7 466.1,295.1 468.2,295.7 469.7,295.7 471.2,296.0 472.6,296.4 474.3,296.4 475.4,296.7 476.5,298.2 478.8,297.2 480.4,297.4 481.8,296.7 483.4,297.4 484.8,298.7 486.2,299.3 487.8,299.2 489.2,298.9 490.9,299.4 492.3,298.8 493.9,298.4 495.6,298.2 497.0,298.5 498.2,299.1 500.0,299.4 501.3,299.0 503.0,297.9 504.5,297.2 506.3,297.4 508.3,298.0" fill="none" stroke="#000" stroke-width="2.2" stroke-linejoin="round"/>
<polyline points="37.5,397.8 38.4,398.5 39.0,400.8 40.6,401.0 41.5,400.3 43.1,401.0 44.4,400.4 45.8,400.6 46.8,400.0 48.2,401.0 49.6,400.8 51.3,400.2 52.5,400.7 54.2,400.3 55.8,400.4 57.3,399.5 58.6,399.4 60.0,399.3 61.6,401.0 63.2,400.0 64.7,400.6 66.3,399.3 68.0,399.7 69.1,400.0 70.9,400.0 72.3,400.0 73.6,398.6 75.3,399.3 76.8,397.8 78.3,396.9 80.0,396.7 81.4,397.0 82.7,396.5 84.2,396.6 85.9,395.5 86.8,394.3 88.2,394.0 89.1,393.7 90.5,392.5 91.8,392.2 93.5,391.7 94.8,390.5 95.8,389.4 96.5,388.0 97.2,386.4 98.0,384.9 98.9,383.9 100.3,382.6 101.0,381.3 102.4,380.8 103.0,378.8 103.9,377.2 105.3,377.3 106.1,376.4 107.0,373.8 107.6,373.5 108.7,375.1 109.8,375.0 110.6,373.2 111.2,372.9 112.1,370.5 112.7,368.8 113.6,368.2 114.4,366.7 115.4,364.7 116.6,363.7 118.4,362.2 118.8,362.6 119.5,365.8 120.2,365.7 120.4,367.5 120.8,368.5 121.3,369.2 122.0,370.8 122.7,372.7 122.9,374.7 123.5,374.7 123.7,377.3 124.1,378.3 124.6,379.2 124.9,380.3 125.4,382.4 125.9,382.8 126.0,383.8 126.5,386.2 126.7,387.1 127.2,387.8 128.0,390.0 129.0,389.9 129.4,391.7 130.2,393.1 131.0,393.9 132.3,395.0 133.2,396.9 134.1,397.4 135.3,399.3 136.3,400.7 138.5,401.0" fill="none" stroke="#000" stroke-width="2.2" stroke-linejoin="round"/>
<polyline points="212.9,401.5 213.7,401.4 215.1,398.5 215.7,397.7 216.3,397.0 217.4,394.0 218.0,393.9 218.7,392.5 218.9,390.2 220.0,388.3 221.2,387.9 221.6,387.0 222.0,384.2 222.7,383.4 223.4,383.2 223.5,381.8 224.2,379.6 225.4,377.3 225.7,379.9 226.0,379.2 226.0,381.1 226.5,382.9 226.9,384.1 228.1,382.8 228.7,381.1 230.2,381.9 231.8,381.9 233.6,382.2 234.8,380.4 236.2,379.2 237.1,378.1 238.0,375.9 239.3,376.6 240.7,374.9 241.6,375.1 242.9,374.9 243.9,373.6 246.1,372.8 247.2,371.4 248.4,371.3 249.3,371.0 250.7,368.3 251.6,366.3 253.0,366.7 253.6,365.3 253.7,364.2 253.9,362.7 254.5,361.4 255.5,363.9 256.7,363.7 257.3,361.4 258.2,360.7 260.2,359.9 260.7,362.4 261.3,364.2 262.0,364.5 262.2,365.8 263.2,368.7 263.5,369.0 265.1,368.3 265.2,369.6 265.6,371.0 266.3,373.4 266.2,374.5 266.6,375.1 267.9,375.2 268.8,378.1 269.0,380.8 269.6,380.7 269.8,383.5 270.5,383.4 271.5,383.3 272.0,386.1 272.8,387.1 274.0,389.5 275.1,390.2 276.0,391.8 276.8,391.0 278.1,393.2 279.3,394.2 280.4,396.2 281.1,397.3 281.9,399.2 283.4,397.7 285.7,398.5 287.9,399.2 289.2,400.3 290.2,400.7 292.5,401.2" fill="none" stroke="#000" stroke-width="2.2" stroke-linejoin="round"/>
<polyline points="385.9,401.5 387.4,400.8 388.9,400.4 390.4,400.0 391.6,398.7 392.7,397.8 393.2,396.1 393.5,394.5 393.9,393.8 394.4,393.4 395.0,391.7 395.7,390.9 396.1,388.5 396.4,388.2 396.7,385.4 397.2,384.9 397.4,383.6 397.7,381.4 398.3,379.9 398.4,378.5 398.7,377.3 399.4,376.1 399.2,373.9 400.1,373.7 400.3,371.3 400.6,370.5 400.7,368.1 401.2,366.9 401.6,365.1 401.8,364.5 401.9,363.4 402.5,362.1 402.9,360.7 403.3,358.4 403.8,357.7 404.3,356.1 404.8,354.6 406.3,356.2 406.6,356.8 407.2,358.7 407.8,360.7 408.6,361.6 409.3,363.0 409.6,364.6 410.1,365.3 410.6,367.8 410.8,368.3 411.8,369.8 412.1,370.3 413.1,372.0 414.0,372.1 415.4,373.6 417.0,373.5 418.4,375.1 420.7,375.8 421.2,378.1 422.2,378.8 423.6,379.9 424.5,380.4 425.8,380.1 427.5,378.8 428.5,380.6 429.8,381.9 430.3,382.8 431.3,384.9 432.3,386.2 432.6,386.7 433.5,388.7 435.0,388.6 435.3,389.7 436.3,391.2 436.4,392.5 437.3,393.9 438.2,394.2 439.5,396.2 441.3,397.3 442.6,397.7 443.9,398.5 445.6,399.2 447.0,399.4 448.6,400.7 449.9,400.0 451.8,400.6 453.1,400.7 454.9,400.4 456.1,401.5 457.7,401.2 458.9,400.7 460.6,401.5 461.6,401.5 462.8,401.1 464.4,400.8 465.6,400.5 467.1,401.5 468.6,401.2 470.0,401.1 471.3,401.2 472.7,400.4 474.0,401.2 476.1,400.2 478.0,401.2" fill="none" stroke="#000" stroke-width="2.2" stroke-linejoin="round"/>
<path d="M36,430H505.5" stroke="#000" stroke-width="2"/>
<path d="M499.2,426.4L506,430L499.2,433.6" fill="none" stroke="#111" stroke-width="1.4"/>
<text x="228.4" y="448.6" font-family="'Liberation Sans', sans-serif" font-size="13.7" fill="#111">Dextran-FITC</text>
</svg>
</body></html>
